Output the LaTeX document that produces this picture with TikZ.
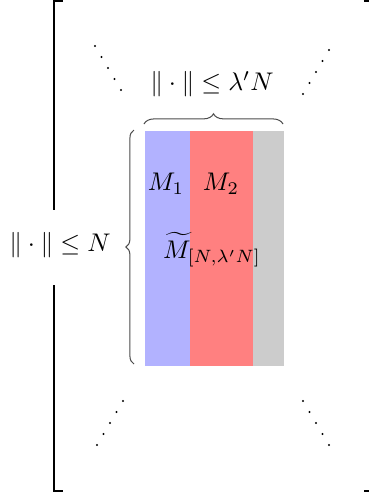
\documentclass[tikz,border=0pt]{standalone}
\usetikzlibrary{decorations.pathreplacing}
\begin{document}
\begin{tikzpicture}[x=0.392pt,y=-0.392pt,
  bar/.style={draw=none,minimum width=#1*0.392pt,minimum height=235*0.392pt,inner sep=0pt,anchor=north west},
  lbl/.style={inner sep=0.5pt},
  bracketline/.style={line width=0.8pt},
  bracestyle/.style={decorate,decoration={brace,amplitude=#1},line width=0.4pt,draw=black!70},
  dotmark/.style={fill=black,draw=none}]
\useasboundingbox (0,0) rectangle (368,498);
% bars
\node[bar=45,fill=blue!30] (b1) at (144,130) {};
\node[bar=63,fill=red!50] (b2) at (189,130) {};
\node[bar=31,fill=gray!40] (b3) at (252,130) {};
% labels in bars
\node[lbl] (m1) at (166,184) {$M_1$};
\node[lbl] (m2) at (221,184) {$M_2$};
\node[lbl] (mt) at (212,250) {$\widetilde{M}_{[N,\lambda' N]}$};
% top brace
\coordinate (tl) at (144,124);
\coordinate (tr) at (283,124);
\draw[bracestyle=4pt] (tl) -- (tr);
\node[lbl] (toplabel) at (212,84) {$\|\cdot\| \leq \lambda' N$};
% left brace
\coordinate (lb) at (134,364);
\coordinate (lt) at (134,130);
\draw[bracestyle=3.2pt] (lb) -- (lt);
% left label and bracket
\node[lbl] (leftlabel) at (60,245) {$\|\cdot\| \leq N$};
\coordinate (ltop1) at (63,1);
\coordinate (ltop2) at (54,1);
\coordinate (lgap1) at (54,210);
\coordinate (lgap2) at (54,285);
\coordinate (lbot1) at (54,491);
\coordinate (lbot2) at (63,491);
\draw[bracketline] (ltop1) -- (ltop2) -- (lgap1);
\draw[bracketline] (lgap2) -- (lbot1) -- (lbot2);
% right bracket (mostly cut off)
\coordinate (rtop1) at (364,1);
\coordinate (rtop2) at (373,1);
\coordinate (rbot1) at (364,491);
\coordinate (rbot2) at (373,491);
\draw[bracketline] (rtop1) -- (rtop2) -- (rbot2) -- (rbot1);
% dots
\foreach \i in {0,...,4} {
  \fill[dotmark] ({95+6.5*\i},{46+11*\i}) circle (1.1);
  \fill[dotmark] ({303+6.5*\i},{94-11*\i}) circle (1.1);
  \fill[dotmark] ({97+6.5*\i},{445-11*\i}) circle (1.1);
  \fill[dotmark] ({303+6.5*\i},{401+11*\i}) circle (1.1);
}
\end{tikzpicture}
\end{document}
